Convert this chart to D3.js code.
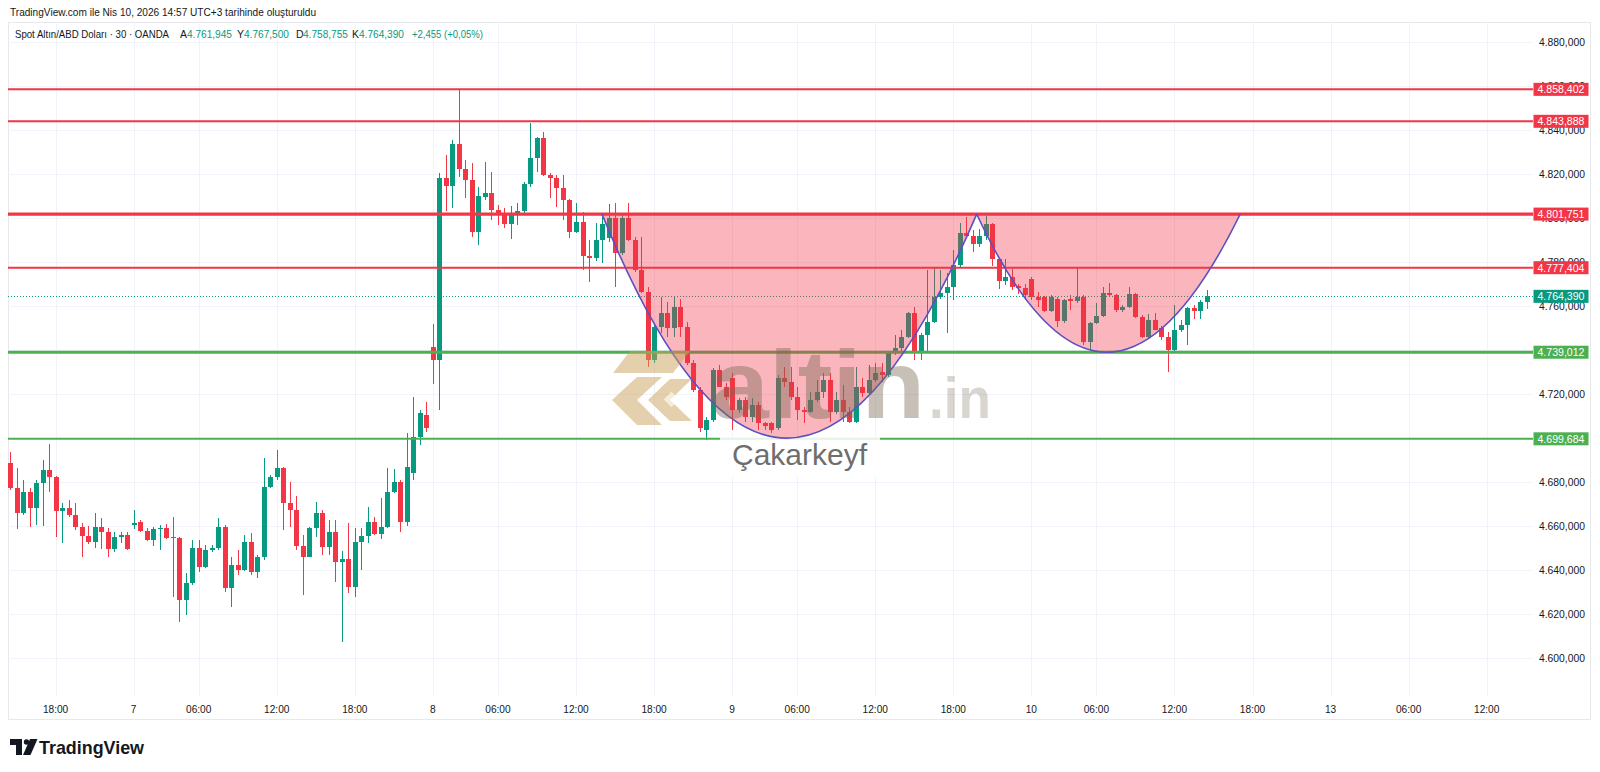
<!DOCTYPE html>
<meta charset="utf-8">
<head>
<title>Spot Altın/ABD Doları - 30 - OANDA</title>
<style>
  body { margin: 0; background: #fff; }
  svg { display: block; font-family: "Liberation Sans", Arial, sans-serif; }
  .grid line { stroke: #f0f3fa; stroke-width: 1; shape-rendering: crispEdges; }
  .wick { stroke-width: 1; shape-rendering: crispEdges; }
  .body { shape-rendering: crispEdges; }
  .pricelabel { font-size: 11.5px; fill: #131722; }
  .timelabel { font-size: 11.5px; fill: #131722; }
  .boxlabel { font-size: 11.5px; fill: #fff; }
</style>
</head>
<body>
<script src="https://d3js.org/d3.v7.min.js"></script>
<script>

// ---- data (30 min bars, 6 Nis 14:30 -> 10 Nis 14:30) ----
var candleOpen = [
  4688.6,4677.2,4665.9,4675.7,4668.1,4679.5,4685.5,4682.5,4667.0,4668.1,
  4665.1,4659.8,4655.6,4653.0,4659.8,4657.5,4649.5,4655.0,4656.0,4660.6,
  4661.9,4657.9,4653.7,4658.6,4659.0,4654.9,4654.5,4626.5,4634.1,4650.0,
  4641.6,4649.2,4650.0,4659.8,4631.8,4642.4,4640.1,4652.9,4639.4,4646.2,
  4678.0,4682.5,4686.3,4670.4,4667.4,4651.2,4646.2,4659.0,4665.9,4650.7,
  4657.5,4643.9,4645.0,4632.6,4653.0,4655.6,4662.1,4656.5,4659.8,4675.7,
  4680.2,4662.0,4684.0,4700.6,4710.5,4741.5,4735.5,4818.0,4814.5,4833.6,
  4822.1,4817.3,4793.8,4809.6,4811.2,4803.6,4802.4,4797.3,4801.5,4803.1,
  4815.6,4827.1,4836.1,4819.5,4818.3,4813.4,4808.1,4793.4,4798.3,4782.7,
  4782.0,4789.9,4791.0,4799.8,4783.9,4799.8,4790.0,4776.4,4766.5,4735.5,
  4750.6,4756.7,4750.0,4759.7,4750.6,4734.0,4721.9,4703.7,4708.2,4730.9,
  4723.4,4727.2,4712.8,4717.3,4709.7,4715.0,4706.7,4706.7,4704.5,4727.2,
  4725.6,4718.9,4712.8,4712.0,4717.3,4721.1,4726.4,4712.0,4717.3,4712.0,
  4707.4,4723.4,4720.4,4726.4,4730.1,4728.7,4738.5,4740.8,4746.1,4756.7,
  4738.5,4746.8,4752.9,4764.2,4765.7,4768.8,4778.6,4793.0,4791.8,4788.2,
  4791.8,4797.1,4781.3,4771.5,4773.3,4769.0,4768.0,4772.2,4763.9,4763.9,
  4757.9,4763.4,4753.3,4763.2,4762.5,4764.2,4743.8,4752.4,4755.4,4766.0,
  4765.0,4758.2,4759.7,4765.4,4755.2,4746.1,4753.7,4749.9,4746.1,4740.0,
  4749.1,4751.5,4759.3,4757.7,4761.945
];
var candleHigh = [
  4693.9,4686.3,4681.0,4677.2,4681.0,4690.0,4697.3,4683.0,4670.4,4671.9,
  4670.4,4661.3,4660.0,4666.2,4663.6,4659.0,4657.5,4657.5,4657.5,4667.4,
  4662.8,4659.0,4659.8,4660.6,4661.0,4664.3,4655.3,4638.6,4653.7,4653.7,
  4651.5,4651.5,4663.6,4660.6,4646.2,4649.2,4656.0,4656.8,4646.9,4690.8,
  4683.3,4694.6,4686.8,4680.2,4673.7,4656.0,4659.5,4671.1,4667.4,4662.8,
  4662.8,4648.9,4661.3,4659.0,4659.0,4668.5,4664.3,4673.0,4686.5,4686.0,
  4680.8,4702.5,4718.8,4712.8,4716.5,4752.0,4820.2,4828.6,4835.4,4858.1,
  4826.3,4824.8,4814.2,4825.6,4821.0,4805.9,4804.4,4805.4,4806.6,4816.4,
  4843.0,4836.6,4839.2,4820.3,4819.5,4819.5,4808.6,4806.6,4802.8,4790.0,
  4797.5,4800.6,4806.5,4806.6,4802.1,4806.6,4791.5,4791.5,4768.8,4752.1,
  4764.2,4761.9,4764.2,4763.4,4752.9,4735.5,4723.4,4709.7,4731.7,4733.2,
  4724.9,4729.4,4718.1,4718.9,4718.1,4716.6,4707.4,4707.4,4728.7,4732.5,
  4732.5,4723.4,4714.3,4721.1,4726.4,4729.4,4729.4,4721.1,4724.1,4714.3,
  4732.5,4727.2,4733.2,4734.0,4734.0,4739.3,4746.8,4749.1,4757.4,4759.7,
  4747.6,4776.4,4777.2,4776.4,4775.0,4785.5,4797.5,4800.6,4794.5,4794.8,
  4800.9,4797.9,4782.0,4781.3,4776.8,4769.8,4769.8,4773.0,4766.2,4764.5,
  4765.0,4764.2,4763.4,4764.9,4777.1,4765.0,4752.9,4761.2,4768.8,4770.3,
  4765.4,4760.4,4768.8,4765.8,4755.9,4756.3,4756.9,4750.7,4748.4,4760.4,
  4753.7,4759.5,4760.4,4762.7,4767.5
];
var candleLow = [
  4676.5,4658.8,4665.0,4659.5,4660.6,4660.1,4675.7,4655.3,4652.2,4664.3,
  4658.3,4645.9,4651.9,4650.0,4649.7,4646.2,4648.4,4652.2,4649.2,4658.8,
  4657.5,4653.4,4651.0,4649.2,4654.2,4628.0,4616.6,4619.7,4633.5,4639.4,
  4641.0,4648.4,4649.2,4630.3,4623.5,4637.8,4639.5,4637.8,4636.3,4644.6,
  4677.2,4681.0,4658.3,4659.8,4649.2,4628.8,4645.8,4655.3,4646.9,4646.9,
  4634.8,4607.5,4629.5,4627.8,4640.1,4652.5,4656.0,4654.0,4659.2,4675.2,
  4657.2,4660.3,4681.0,4696.8,4703.0,4724.8,4712.8,4803.0,4804.4,4818.7,
  4808.9,4791.5,4787.7,4808.1,4799.1,4796.8,4795.3,4790.3,4797.0,4801.3,
  4814.2,4821.0,4819.0,4808.9,4805.1,4799.1,4790.8,4793.0,4776.3,4771.1,
  4780.5,4779.7,4789.0,4768.8,4783.2,4789.5,4775.6,4766.0,4732.5,4734.0,
  4747.6,4746.0,4746.0,4746.0,4733.2,4721.1,4703.0,4699.1,4707.4,4723.0,
  4717.3,4703.7,4711.3,4707.4,4707.4,4703.7,4703.7,4702.2,4703.7,4723.4,
  4717.3,4708.2,4706.7,4711.3,4716.6,4718.1,4707.4,4711.0,4707.4,4706.7,
  4706.7,4718.9,4719.6,4725.6,4725.6,4727.9,4737.8,4739.3,4745.3,4735.5,
  4735.5,4739.3,4752.1,4763.3,4747.6,4762.7,4777.1,4790.9,4784.7,4787.0,
  4790.0,4778.3,4767.9,4769.4,4767.5,4765.4,4762.7,4762.7,4759.7,4757.4,
  4757.4,4750.6,4752.3,4758.2,4761.2,4742.3,4739.1,4751.8,4754.8,4764.2,
  4757.4,4757.4,4758.9,4754.4,4745.3,4745.3,4748.9,4744.6,4730.1,4739.3,
  4748.4,4742.3,4754.0,4754.0,4758.755
];
var candleClose = [
  4677.2,4665.9,4675.7,4668.1,4679.5,4685.5,4682.5,4667.0,4668.1,4665.1,
  4659.8,4655.6,4653.0,4659.8,4657.5,4649.5,4655.3,4656.0,4649.5,4661.5,
  4657.9,4653.7,4658.6,4659.0,4654.5,4654.5,4626.5,4634.1,4650.0,4641.6,
  4649.2,4650.0,4659.8,4631.8,4642.4,4640.1,4652.9,4639.4,4646.2,4678.0,
  4682.5,4686.3,4670.4,4667.4,4651.2,4646.2,4659.0,4665.9,4650.7,4657.5,
  4643.9,4645.0,4632.6,4653.0,4655.6,4662.1,4656.5,4659.8,4675.7,4680.0,
  4662.0,4687.0,4700.6,4711.2,4704.4,4735.5,4818.0,4814.5,4833.6,4822.1,
  4817.3,4793.8,4810.0,4811.2,4803.6,4802.4,4797.3,4802.1,4803.1,4815.6,
  4827.1,4836.1,4819.5,4818.3,4813.4,4808.1,4793.8,4798.3,4782.7,4782.0,
  4789.9,4797.4,4799.8,4783.9,4799.8,4790.0,4776.4,4766.5,4735.5,4750.6,
  4756.7,4750.0,4759.7,4750.6,4734.0,4721.9,4704.5,4708.2,4730.9,4723.4,
  4718.9,4712.8,4717.3,4709.7,4715.0,4706.7,4705.5,4703.7,4727.2,4725.6,
  4718.9,4712.8,4712.0,4717.3,4721.1,4726.4,4712.0,4717.3,4712.0,4707.4,
  4723.4,4720.4,4726.4,4729.4,4728.7,4738.5,4740.8,4746.1,4756.7,4738.5,
  4746.8,4752.9,4764.2,4765.7,4768.8,4778.6,4793.0,4791.8,4788.2,4791.8,
  4797.1,4781.3,4771.5,4773.3,4768.5,4768.0,4764.9,4763.9,4762.7,4757.9,
  4763.9,4753.3,4762.7,4762.5,4764.2,4743.8,4752.4,4755.4,4766.0,4765.0,
  4758.2,4759.7,4765.4,4755.2,4746.1,4753.7,4749.1,4746.1,4740.0,4749.1,
  4751.5,4759.1,4757.7,4761.935,4764.39
];

// time axis: bar index -> label
var timeTickIndex = [7, 19, 29, 41, 53, 65, 75, 87, 99, 111, 121, 133, 145, 157, 167, 179, 191, 203, 215, 227];
var timeTickLabel = ["18:00", "7", "06:00", "12:00", "18:00", "8", "06:00", "12:00", "18:00", "9",
                     "06:00", "12:00", "18:00", "10", "06:00", "12:00", "18:00", "13", "06:00", "12:00"];

var priceTicks = [4600, 4620, 4640, 4660, 4680, 4700, 4720, 4740, 4760, 4780, 4800, 4820, 4840, 4860, 4880];

// horizontal levels drawn on the chart
var levelValues = [4858.402, 4843.888, 4801.751, 4777.404, 4739.012, 4699.684];

// cup & handle curves (bar index / price)
var cupRim      = 4801.751;
var cupStart    = [91.0, 148.6];
var cupEnd      = [148.6, 189.1];
var cupLowIdx   = [119.4, 168.6];
var cupLowValue = [4700.0, 4739.012];

// ---- layout ----
var W = 1600, H = 772;
var plot = {left: 8, right: 1533, top: 23, bottom: 696};

var trLocale = d3.formatLocale({decimal: ",", thousands: ".", grouping: [3], currency: ["", ""]});
var fmtPrice = trLocale.format(",.3f");
var fmtChange = trLocale.format("+,.3f");
var fmtPct = trLocale.format("+,.2f");

var x = d3.scaleLinear().domain([7, 227]).range([55.6, 1486.7]);
var y = d3.scaleLinear().domain([4600, 4880]).range([658.3, 41.8]);

var upColor = "#089981", downColor = "#f23645";
var levelStyle = [
  {color: "#f23645", width: 2}, {color: "#f23645", width: 2}, {color: "#f23645", width: 3.2},
  {color: "#f23645", width: 2}, {color: "#4caf50", width: 3.2}, {color: "#4caf50", width: 2}
];

var svg = d3.select("body").append("svg").attr("width", W).attr("height", H);

svg.append("defs").append("clipPath").attr("id", "plotclip")
    .append("rect")
    .attr("x", plot.left).attr("y", plot.top)
    .attr("width", plot.right - plot.left).attr("height", plot.bottom - plot.top);

// squeeze helpers (tv fonts are narrower)
function squeeze(sel, k) {
  sel.each(function() {
    var n = this.getComputedTextLength();
    this.setAttribute("textLength", n * k);
    this.setAttribute("lengthAdjust", "spacingAndGlyphs");
  });
}
function fit(sel, w) {
  sel.attr("textLength", w).attr("lengthAdjust", "spacingAndGlyphs");
  return sel;
}

// frame
svg.append("rect")
    .attr("x", 8.5).attr("y", 22.5).attr("width", 1582).attr("height", 697)
    .attr("fill", "none").attr("stroke", "#e6e8ee");

// grid
var grid = svg.append("g").attr("class", "grid").attr("clip-path", "url(#plotclip)");
grid.selectAll("line.h").data(priceTicks).enter().append("line")
    .attr("class", "h")
    .attr("x1", plot.left).attr("x2", plot.right)
    .attr("y1", function(d) { return Math.round(y(d)) + 0.5; })
    .attr("y2", function(d) { return Math.round(y(d)) + 0.5; });
grid.selectAll("line.v").data(timeTickIndex).enter().append("line")
    .attr("class", "v")
    .attr("y1", plot.top).attr("y2", plot.bottom)
    .attr("x1", function(d) { return Math.round(x(d)) + 0.5; })
    .attr("x2", function(d) { return Math.round(x(d)) + 0.5; });

// candles
var candles = candleOpen.map(function(o, i) {
  return {i: i, o: o, h: candleHigh[i], l: candleLow[i], c: candleClose[i]};
});
var last = candles[candles.length - 1];
var prev = candles[candles.length - 2];

var cg = svg.append("g").attr("clip-path", "url(#plotclip)");
cg.selectAll("line.wick").data(candles).enter().append("line")
    .attr("class", "wick")
    .attr("x1", function(d) { return Math.round(x(d.i)) + 0.5; })
    .attr("x2", function(d) { return Math.round(x(d.i)) + 0.5; })
    .attr("y1", function(d) { return y(d.h); })
    .attr("y2", function(d) { return y(d.l); })
    .attr("stroke", function(d) { return d.c >= d.o ? upColor : downColor; });
cg.selectAll("rect.body").data(candles).enter().append("rect")
    .attr("class", "body")
    .attr("x", function(d) { return Math.round(x(d.i)) - 2; })
    .attr("width", 5)
    .attr("y", function(d) { return y(Math.max(d.o, d.c)); })
    .attr("height", function(d) { return Math.max(1, Math.abs(y(d.o) - y(d.c))); })
    .attr("fill", function(d) { return d.c >= d.o ? upColor : downColor; });

// last price dotted line
cg.append("line")
    .attr("x1", plot.left).attr("x2", plot.right)
    .attr("y1", Math.round(y(last.c)) + 0.5).attr("y2", Math.round(y(last.c)) + 0.5)
    .attr("stroke", upColor).attr("stroke-width", 1).attr("stroke-dasharray", "1,2");

// horizontal levels
cg.selectAll("line.level").data(levelValues).enter().append("line")
    .attr("class", "level")
    .attr("x1", plot.left).attr("x2", plot.right)
    .attr("y1", function(d) { return y(d); }).attr("y2", function(d) { return y(d); })
    .attr("stroke", function(d, i) { return levelStyle[i].color; })
    .attr("stroke-width", function(d, i) { return levelStyle[i].width; });

// white plate under the signature
svg.append("rect")
    .attr("x", 720).attr("y", 437).attr("width", 160).attr("height", 40)
    .attr("fill", "#fff").attr("opacity", 0.85);

// cup & handle curves (quadratic)
var cups = cupStart.map(function(s, k) {
  var x0 = x(s), x2 = x(cupEnd[k]), xb = x(cupLowIdx[k]);
  var y0 = y(cupRim), yb = y(cupLowValue[k]);
  return {x0: x0, y0: y0, x1: 2 * xb - (x0 + x2) / 2, y1: 2 * yb - y0, x2: x2};
});
var curveG = svg.append("g").attr("clip-path", "url(#plotclip)");
curveG.selectAll("path.cupfill").data(cups).enter().append("path")
    .attr("d", function(c) { return "M" + c.x0 + "," + c.y0 + " Q" + c.x1 + "," + c.y1 + " " + c.x2 + "," + c.y0 + " Z"; })
    .attr("fill", "#f23645").attr("fill-opacity", 0.36).attr("stroke", "none");
curveG.selectAll("path.cupline").data(cups).enter().append("path")
    .attr("d", function(c) { return "M" + c.x0 + "," + c.y0 + " Q" + c.x1 + "," + c.y1 + " " + c.x2 + "," + c.y0; })
    .attr("fill", "none").attr("stroke", "#5e4fc4").attr("stroke-width", 1.6);

// watermark
var wm = svg.append("g");
var gold = "#c9a25a";
wm.append("polygon").attr("points", "630,351 690,351 673,373 613,373").attr("fill", gold).attr("opacity", 0.5);
wm.append("polygon").attr("points", "612,400 637,377 662,377 637,400 662,425 637,425").attr("fill", gold).attr("opacity", 0.5);
wm.append("polygon").attr("points", "648,400 670,379 692,379 670,400 692,421 670,421").attr("fill", gold).attr("opacity", 0.5);
wm.append("rect").attr("x", 666).attr("y", 394).attr("width", 11).attr("height", 11)
    .attr("transform", "rotate(45,671.5,399.5)").attr("fill", "#fff").attr("opacity", 0.6);
fit(wm.append("text").attr("x", 711).attr("y", 418)
    .style("font-size", "96px").style("font-weight", "bold")
    .attr("fill", "#7a6a55").attr("opacity", 0.42).text("altin"), 214);
fit(wm.append("text").attr("x", 929).attr("y", 418)
    .style("font-size", "58px").style("font-weight", "bold")
    .attr("fill", "#7a6a55").attr("opacity", 0.28).text(".in"), 62);
wm.append("text").attr("x", 799.5).attr("y", 465).attr("text-anchor", "middle")
    .style("font-size", "30px").attr("fill", "#6e6e6e").text("Çakarkeyf");

// price axis labels
fit(svg.append("g").selectAll("text").data(priceTicks).enter().append("text")
    .attr("class", "pricelabel")
    .attr("x", 1562).attr("y", function(d) { return y(d) + 4; })
    .attr("text-anchor", "middle")
    .text(function(d) { return fmtPrice(d); }), 46);

// level boxes + last price box
var boxes = levelValues.map(function(v, i) { return {v: v, color: levelStyle[i].color}; });
boxes.push({v: last.c, color: upColor});
var bg = svg.append("g").selectAll("g").data(boxes).enter().append("g");
bg.append("rect")
    .attr("x", 1533.5).attr("width", 55).attr("height", 13)
    .attr("y", function(d) { return y(d.v) - 6.5; })
    .attr("fill", function(d) { return d.color; });
fit(bg.append("text")
    .attr("class", "boxlabel")
    .attr("x", 1561).attr("y", function(d) { return y(d.v) + 4; })
    .attr("text-anchor", "middle")
    .text(function(d) { return fmtPrice(d.v); }), 47);

// time axis labels
var tl = svg.append("g").selectAll("text").data(timeTickIndex).enter().append("text")
    .attr("class", "timelabel")
    .attr("x", function(d) { return x(d); }).attr("y", 713)
    .attr("text-anchor", "middle")
    .text(function(d, i) { return timeTickLabel[i]; });
squeeze(tl, 0.88);

// header
fit(svg.append("text").attr("x", 10).attr("y", 16)
    .style("font-size", "10.5px").attr("fill", "#131722")
    .text("TradingView.com ile Nis 10, 2026 14:57 UTC+3 tarihinde oluşturuldu"), 306);

// legend
var lg = svg.append("g").style("font-size", "10.5px");
fit(lg.append("text").attr("x", 15).attr("y", 38).attr("fill", "#131722")
    .text("Spot Altın/ABD Doları · 30 · OANDA"), 154);
var chg = last.c - prev.c;
var legendItems = [
  {k: "A", v: fmtPrice(last.o), kx: 180, vx: 187},
  {k: "Y", v: fmtPrice(last.h), kx: 237, vx: 244},
  {k: "D", v: fmtPrice(last.l), kx: 296, vx: 303},
  {k: "K", v: fmtPrice(last.c), kx: 352, vx: 359}
];
legendItems.forEach(function(it) {
  lg.append("text").attr("x", it.kx).attr("y", 38).attr("fill", "#131722").text(it.k);
  fit(lg.append("text").attr("x", it.vx).attr("y", 38).attr("fill", upColor).text(it.v), 45);
});
fit(lg.append("text").attr("x", 412).attr("y", 38).attr("fill", upColor)
    .text(fmtChange(chg) + " (" + fmtPct(chg / prev.c * 100) + "%)"), 71);

// TradingView logo
var logo = svg.append("g").attr("fill", "#131722");
logo.append("path").attr("d", "M10,739 H22 V755 H16 V745 H10 Z");
logo.append("circle").attr("cx", 26.5).attr("cy", 742).attr("r", 2.7);
logo.append("path").attr("d", "M30,739 H37.5 L30.5,755 H23 Z");
fit(logo.append("text").attr("x", 39).attr("y", 754)
    .style("font-size", "19px").style("font-weight", "bold")
    .text("TradingView"), 105);

</script>
</body>
